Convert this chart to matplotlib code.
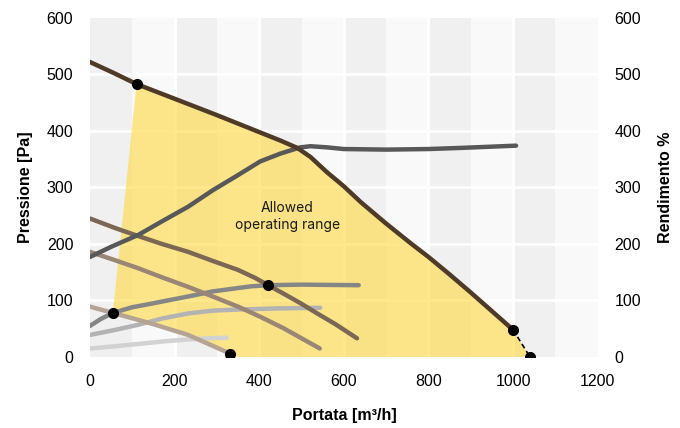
import numpy as np
import matplotlib
matplotlib.use("Agg")
import matplotlib.pyplot as plt

plt.rcParams['font.family'] = ['Liberation Sans', 'DejaVu Sans']

# pressure curve at max speed (Pa vs m3/h)
main_x = [0, 55, 110, 200, 300, 400, 450, 490, 521, 560, 600, 640, 700, 760, 800, 850, 900, 950, 1000]
main_y = [522, 503, 483, 457, 428, 398, 383, 370, 354, 327, 302, 274, 236, 200, 177, 146, 114, 81, 48]

# efficiency at max speed
eff_x = [0, 50, 114, 170, 232, 290, 350, 402, 450, 497, 521, 560, 600, 700, 800, 876, 1007]
eff_y = [177, 195, 216, 240, 266, 295, 322, 346, 360, 371, 373, 371, 368, 367, 368, 370, 374]

# lower speed pressure curves
p2_x = [0, 60, 114, 170, 232, 290, 350, 390, 421, 460, 500, 537, 580, 631]
p2_y = [245, 228, 214, 200, 186, 170, 154, 140, 127, 111, 94, 77, 58, 33]
p3_x = [0, 60, 114, 170, 232, 290, 350, 400, 457, 500, 543]
p3_y = [186, 171, 157, 141, 124, 107, 89, 72, 51, 33, 15]
p4_x = [0, 54, 150, 232, 280, 331]
p4_y = [89, 78, 58, 39, 23, 6]

# lower speed efficiency curves
e2_x = [0, 25, 54, 100, 150, 190, 232, 290, 350, 380, 421, 500, 635]
e2_y = [55, 67, 78, 88, 95, 101, 107, 116, 122, 125, 127, 128, 127]
e3_x = [0, 60, 114, 170, 232, 290, 350, 450, 544]
e3_y = [39, 48, 57, 68, 77, 82, 84, 86, 87]
e4_x = [0, 60, 114, 180, 232, 280, 323]
e4_y = [15, 19, 23, 28, 31, 33, 34]

# marked points
pts_x = [110, 55, 421, 331, 1000, 1040]
pts_y = [483, 78, 127, 6, 48, 0]

fig = plt.figure(figsize=(6.8, 4.28), dpi=100)
ax = fig.add_axes([0.1324, 0.166, 0.7466, 0.792])
ax.set_xlim(0, 1200)
ax.set_ylim(0, 600)

# background columns
for i in range(12):
    ax.axvspan(i * 100, (i + 1) * 100, color='#f0f0f0' if i % 2 == 0 else '#f9f9f9',
               lw=0, zorder=0)
for yy in range(100, 600, 100):
    ax.axhline(yy, color='white', lw=2, zorder=0.5)
for xx in range(200, 1200, 200):
    ax.axvline(xx, color='white', lw=2, zorder=0.5)

# allowed operating range
mx, my = np.array(main_x), np.array(main_y)
keep = mx >= 110
poly_x = list(mx[keep]) + [pts_x[5], p4_x[-1]] + p4_x[::-1][:-1]
poly_y = list(my[keep]) + [pts_y[5], 0] + p4_y[::-1][:-1]
ax.fill(poly_x, poly_y, color='#ffdb4d', alpha=0.65, lw=0, zorder=1)

kw = dict(lw=3.2, solid_capstyle='round', solid_joinstyle='round', zorder=3)
ax.plot(e4_x, e4_y, color='#d2d2d2', **kw)
ax.plot(e3_x, e3_y, color='#b3b3b3', **kw)
ax.plot(e2_x, e2_y, color='#868686', **kw)
ax.plot(p4_x, p4_y, color='#b5a393', **kw)
ax.plot(p3_x, p3_y, color='#9b8574', **kw)
ax.plot(p2_x, p2_y, color='#7c6654', **kw)
ax.plot(eff_x, eff_y, color='#585858', **kw)
ax.plot(main_x, main_y, color='#4e3a27', **kw)
ax.plot(pts_x[4:], pts_y[4:], color='black', lw=1.2, ls=(0, (3, 2)), zorder=4)
ax.plot(pts_x, pts_y, 'o', color='black', ms=7, zorder=5)

ax.text(466, 248, 'Allowed\noperating range', ha='center', va='center',
        fontsize=10, color='#1a1a1a', zorder=6, linespacing=1.25,
        family=['Inter', 'DejaVu Sans'])

ticks = np.arange(0, 601, 100)
ax.set_yticks(ticks)
ax.set_xticks(np.arange(0, 1201, 200))
ax.tick_params(length=0, labelsize=11.5, pad=12)
for s in ax.spines.values():
    s.set_visible(False)
ax.set_xlabel('Portata [m³/h]', fontsize=11.5, fontweight='bold', labelpad=14)
ax.set_ylabel('Pressione [Pa]', fontsize=11.5, fontweight='bold', labelpad=10)

ax2 = ax.twinx()
ax2.set_ylim(0, 600)
ax2.set_yticks(ticks)
ax2.tick_params(length=0, labelsize=11.5, pad=12)
for s in ax2.spines.values():
    s.set_visible(False)
ax2.set_ylabel('Rendimento %', fontsize=11.5, fontweight='bold', labelpad=12)

fig.savefig('out.png', dpi=100)
